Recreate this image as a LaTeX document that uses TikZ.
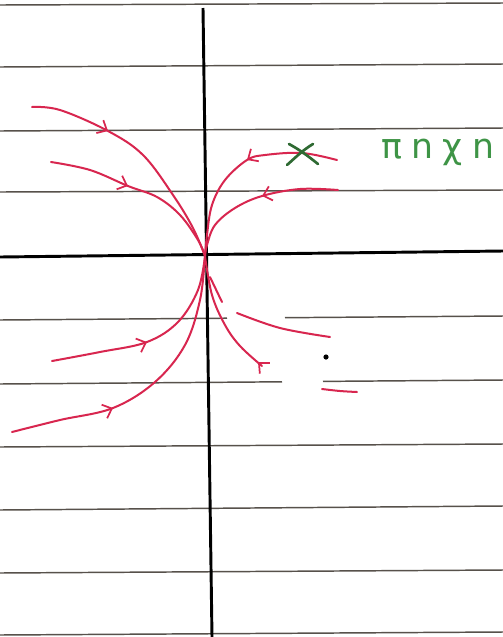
\documentclass[tikz,border=0pt]{standalone}
\usepackage{fontspec}
\newfontfamily\greekfont{DejaVu Sans}
\usetikzlibrary{arrows.meta}
\definecolor{ink}{HTML}{D8264F}
\definecolor{rulec}{HTML}{57514B}
\definecolor{grn}{HTML}{3E9446}
\definecolor{dgrn}{HTML}{2F6A33}
\begin{document}
\begin{tikzpicture}[x=0.75pt,y=-0.75pt,
  ruleline/.style={draw=rulec,line width=1.1pt},
  axisline/.style={draw=black,line width=2.2pt},
  traj/.style={draw=ink,line width=1.5pt,line cap=round},
  tip/.style={draw=ink,line width=1.5pt,-{Straight Barb[length=6pt,width=11pt,line width=1.3pt]}}
]
\useasboundingbox[fill=white] (0,0) rectangle (503,637);
% ruled lines
\foreach \a/\b in {5/3,67/64,131/128,192/190,447/444,510/506,573/570,635/632}
  \draw[ruleline] (0,\a) -- (503,\b);
\draw[ruleline] (0,320) -- (227,318.2);
\draw[ruleline] (285,317.7) -- (503,316);
\draw[ruleline] (0,384) -- (282,381.8);
\draw[ruleline] (323,381.4) -- (503,380);
% axes
\coordinate (O) at (205,256);
\coordinate (xl) at (0,257);
\coordinate (xr) at (503,251);
\coordinate (yt) at (203,8);
\coordinate (yb) at (212,637);
\draw[axisline] (xl) -- (xr);
\draw[axisline] (yt) -- (yb);
% trajectories
\draw[traj] plot[smooth,tension=0.6] coordinates {(32,107) (60,110) (108,131) (143,155) (173,195) (193,228) (O)};
\draw[traj] plot[smooth,tension=0.6] coordinates {(51,162) (90,170) (128,186) (157,197) (180,215) (198,240) (O)};
\draw[traj] plot[smooth,tension=0.6] coordinates {(337,160) (302,153) (265,155) (247,160) (225,180) (212,205) (207,235) (O)};
\draw[traj] plot[smooth,tension=0.6] coordinates {(338,190) (300,189) (262,196) (235,208) (215,225) (207,245) (O)};
\draw[traj] plot[smooth,tension=0.6] coordinates {(52,361) (100,352) (147,342) (178,322) (198,290) (O)};
\draw[traj] plot[smooth,tension=0.6] coordinates {(12,432) (60,420) (113,408) (155,382) (185,345) (200,300) (O)};
\draw[traj] plot[smooth,tension=0.6] coordinates {(262,366) (240,346) (225,325) (212,295) (O)};
% arrow heads
\coordinate (a1) at (108,131); \coordinate (b1) at (104.5,129.1);
\coordinate (a2) at (128,186); \coordinate (b2) at (124.8,184.7);
\coordinate (a3) at (247,160); \coordinate (b3) at (250,158.1);
\coordinate (a4) at (262,196); \coordinate (b4) at (265.4,195);
\coordinate (a5) at (147,342); \coordinate (b5) at (143.7,343.3);
\coordinate (a6) at (113,408); \coordinate (b6) at (109.8,409.3);
\coordinate (a7) at (258,362); \coordinate (b7) at (260.6,364.4);
\foreach \i in {1,...,7} \draw[tip] (b\i) -- (a\i);
% other strokes
\draw[traj] (210,277) -- (222,302);
\draw[traj] plot[smooth,tension=0.6] coordinates {(237,313) (280,328) (330,337)};
\draw[traj] plot[smooth,tension=0.6] coordinates {(322,389) (340,391) (357,392)};
\fill[black] (326,357) circle (2.6);
% green mark and text
\draw[dgrn,line width=2pt,line cap=round] (289,144) .. controls (300,150) and (308,156) .. (318,164);
\draw[dgrn,line width=2pt,line cap=round] (313,144) .. controls (303,150) and (296,157) .. (287,165);
\node[text=grn,anchor=west,inner sep=0pt,font=\greekfont\fontsize{26}{26}\selectfont] (lbl) at (381,152) {π\hspace{7pt}n\hspace{7pt}χ\hspace{7pt}n};
\end{tikzpicture}
\end{document}
